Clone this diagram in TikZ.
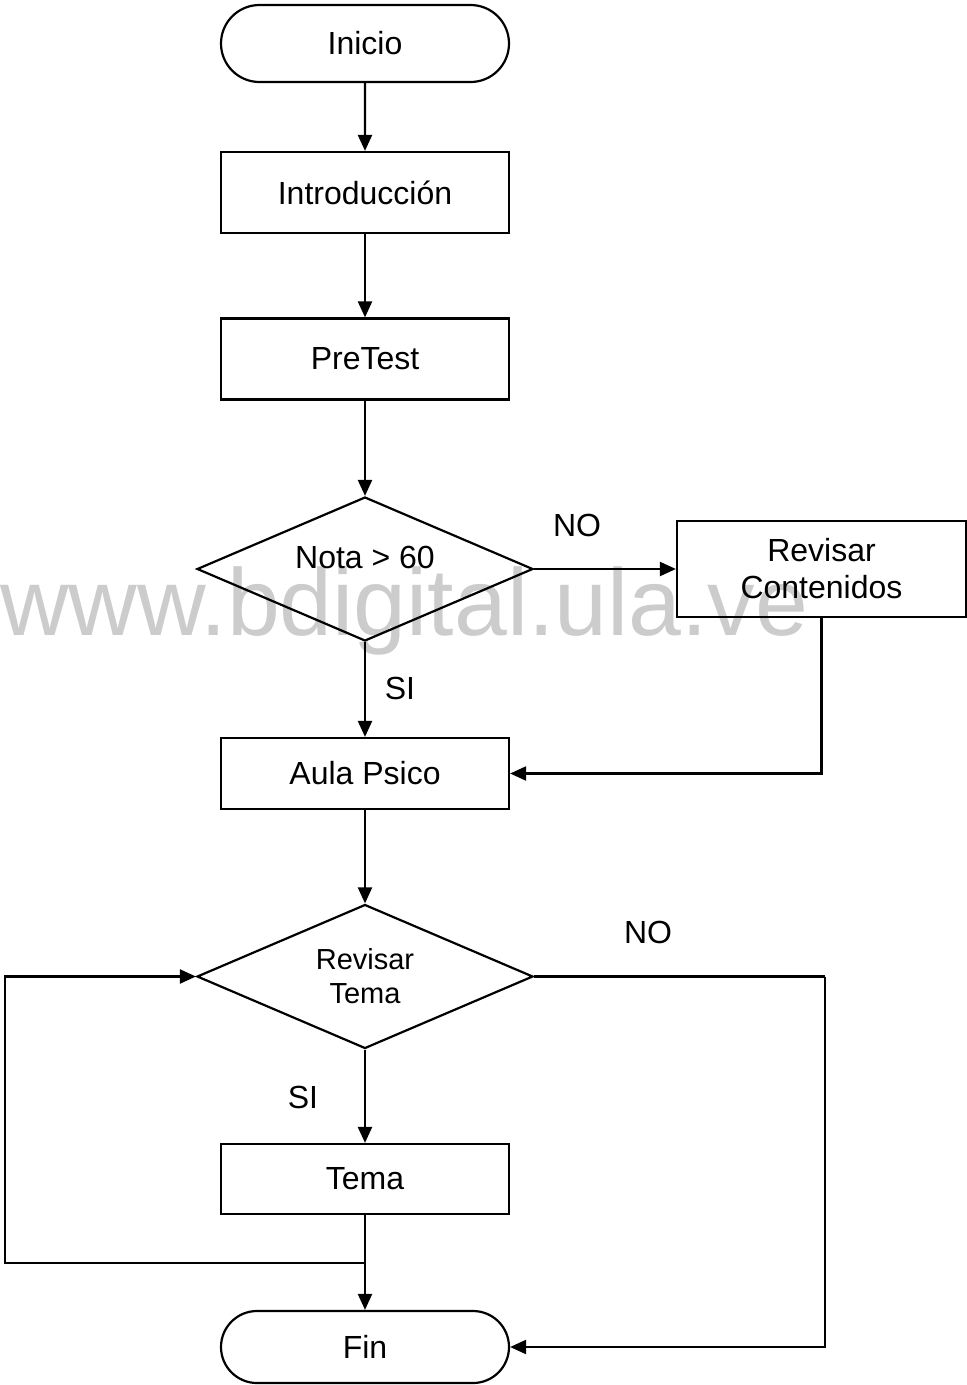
\documentclass[tikz,border=0pt]{standalone}
\usepackage{fontspec}
\setmainfont{Liberation Sans}
\usetikzlibrary{shapes.geometric,shapes.misc,arrows.meta}
\tikzset{
  base/.style={draw=black,line width=2.2pt,inner sep=0pt,font=\fontsize{32}{37}\selectfont,align=center},
  term/.style={base,rounded rectangle,minimum width=288pt,minimum height=77pt},
  procbox/.style={base,rectangle,minimum width=288pt,minimum height=81pt},
  decis/.style={base,diamond,aspect=2.33,minimum width=336pt,minimum height=144pt},
  arr/.style={line width=2.2pt,-{Triangle[length=16pt,width=14pt]}},
  ln/.style={line width=2.2pt},
  lbl/.style={font=\fontsize{32}{37}\selectfont,inner sep=0pt},
  wm/.style={font=\fontsize{95}{100}\selectfont,text=black!20,inner sep=0pt}
}
\begin{document}
\begin{tikzpicture}[x=1pt,y=-1pt]
\useasboundingbox (0,0) rectangle (967,1385);
\node[wm,anchor=base west] (water) at (0,635) {www.bdigital.ula.ve};
\node[term] (inicio) at (365,43.5) {Inicio};
\node[procbox] (intro) at (365,192.5) {Introducción};
\node[procbox] (pre) at (365,359) {PreTest};
\node[decis,label={[lbl,yshift=12pt]center:Nota > 60}] (nota) at (365,569) {};
\node[procbox,minimum width=289pt,minimum height=96pt] (revc) at (821.5,569) {Revisar\\Contenidos};
\node[procbox,minimum height=71pt] (aula) at (365,773.5) {Aula Psico};
\node[decis,font=\fontsize{29}{34}\selectfont] (revt) at (365,976.5) {Revisar\\Tema};
\node[procbox,minimum height=70pt] (tema) at (365,1179) {Tema};
\node[term,minimum height=72pt] (fin) at (365,1347) {Fin};
\node[lbl] (no1) at (577,525) {NO};
\node[lbl] (si1) at (400,688) {SI};
\node[lbl] (no2) at (648,932) {NO};
\node[lbl] (si2) at (303,1097) {SI};
\coordinate (jn) at (365,1263);
\coordinate (lc) at (5,1263);
\coordinate (rc) at (825,976.5);
\draw[arr] (inicio) -- (intro);
\draw[arr] (intro) -- (pre);
\draw[arr] (pre) -- (nota);
\draw[arr] (nota.east) -- (revc.west);
\draw[arr] (nota.south) -- (aula.north);
\draw[arr] (revc.south) |- (aula.east);
\draw[arr] (aula) -- (revt);
\draw[arr] (revt.south) -- (tema.north);
\draw[arr] (tema.south) -- (fin.north);
\draw[arr] (jn) -- (lc) |- (revt.west);
\draw[ln] (revt.east) -- (rc);
\draw[arr] (rc) |- (fin.east);
\end{tikzpicture}
\end{document}
